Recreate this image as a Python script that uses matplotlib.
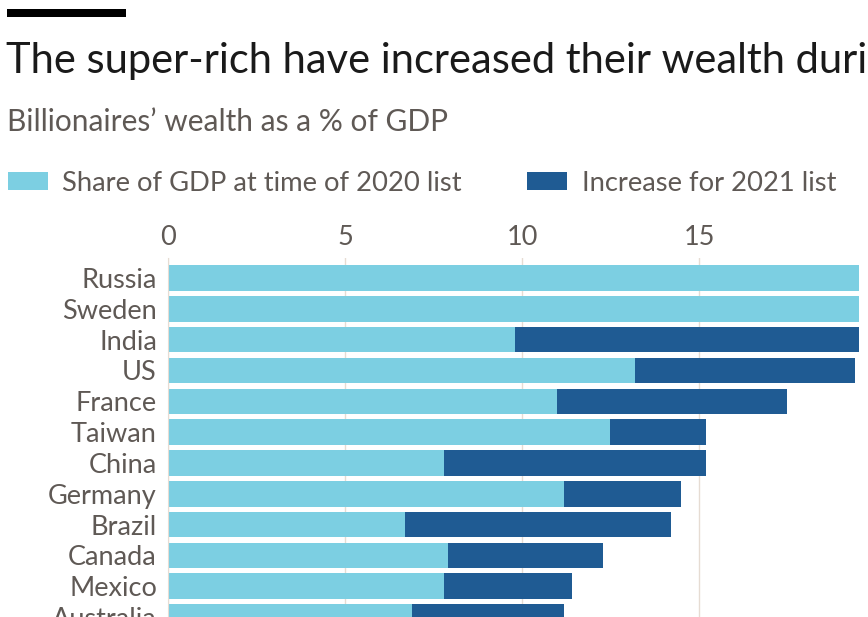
import matplotlib.pyplot as plt
from matplotlib.patches import Rectangle

# Billionaires' wealth as a share of GDP
countries = ["Russia", "Sweden", "India", "US", "France", "Taiwan", "China",
             "Germany", "Brazil", "Canada", "Mexico", "Australia"]
share_2020 = [24.0, 21.0, 9.8, 13.2, 11.0, 12.5, 7.8, 11.2, 6.7, 7.9, 7.8, 6.9]
increase_2021 = [5.0, 7.0, 11.0, 6.2, 6.5, 2.7, 7.4, 3.3, 7.5, 4.4, 3.6, 4.3]
xticks = [0, 5, 10, 15]

LIGHT = "#7ccfe2"
DARK = "#1f5b93"
GREY = "#5f5955"
GRID = "#e6dcd3"
FONT = "Lato"

W, H = 868, 617
fig = plt.figure(figsize=(W / 100, H / 100), dpi=100)
fig.patch.set_facecolor("white")


def fx(px):
    return px / W


def fy(py):
    return 1 - py / H


# header
fig.patches.append(Rectangle((fx(7), fy(17)), fx(119), 8 / H, transform=fig.transFigure,
                             facecolor="black", edgecolor="none"))
fig.text(fx(6), fy(73), "The super-rich have increased their wealth during the pandemic",
         fontsize=30, color="#1a1a1a", family=FONT, va="baseline", ha="left")
fig.text(fx(7), fy(131), "Billionaires\u2019 wealth as a % of GDP",
         fontsize=21.5, color=GREY, family=FONT, va="baseline", ha="left")

# legend
fig.patches.append(Rectangle((fx(8), fy(190)), fx(40), 18 / H, transform=fig.transFigure,
                             facecolor=LIGHT, edgecolor="none"))
fig.text(fx(62), fy(191), "Share of GDP at time of 2020 list",
         fontsize=19.7, color=GREY, family=FONT, va="baseline", ha="left")
fig.patches.append(Rectangle((fx(527), fy(190)), fx(40), 18 / H, transform=fig.transFigure,
                             facecolor=DARK, edgecolor="none"))
fig.text(fx(582), fy(191), "Increase for 2021 list",
         fontsize=19.7, color=GREY, family=FONT, va="baseline", ha="left")

# chart
ax = fig.add_axes([fx(168), 0, fx(859 - 168), 1 - 258 / H])
y = list(range(len(countries)))
ax.barh(y, share_2020, height=0.83, color=LIGHT, zorder=2)
ax.barh(y, increase_2021, left=share_2020, height=0.83, color=DARK, zorder=2)

ax.set_xlim(0, 19.52)
ax.set_ylim(11.0, -0.65)
ax.set_xticks(xticks)
ax.set_xticklabels([str(t) for t in xticks], family=FONT, fontsize=19.5, color=GREY)
ax.xaxis.tick_top()
ax.tick_params(axis="x", length=0, pad=6)
ax.set_yticks(y)
ax.set_yticklabels(countries, family=FONT, fontsize=19.5, color=GREY)
ax.tick_params(axis="y", length=0, pad=8)
ax.grid(axis="x", color=GRID, linewidth=1, zorder=0)
for s in ["top", "right", "bottom"]:
    ax.spines[s].set_visible(False)
ax.spines["left"].set_color(GRID)
ax.spines["left"].set_zorder(3)

fig.savefig("out.png", dpi=100)
